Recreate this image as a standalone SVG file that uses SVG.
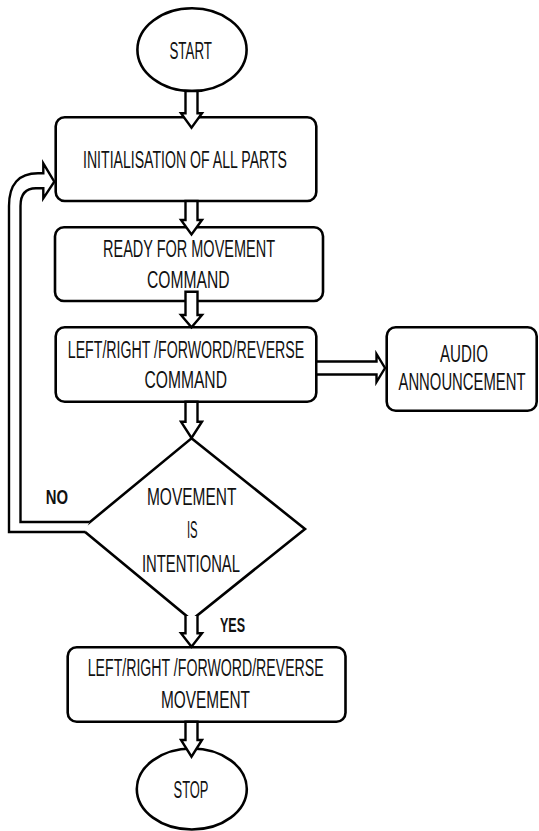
<svg xmlns="http://www.w3.org/2000/svg" width="539" height="831" viewBox="0 0 539 831">
<style>
.n{fill:#fff;stroke:#000;stroke-width:2.6}
.c{fill:#fff;stroke:#000;stroke-width:2.4;stroke-linejoin:miter}
text{font-family:"Liberation Sans",Arial,sans-serif;font-size:23px;fill:#111;text-anchor:middle}
.b{font-weight:bold;font-size:20px}
</style>
<rect width="539" height="831" fill="#fff"/>
<g id="start">
<ellipse class="n" cx="192" cy="49.7" rx="54.6" ry="41.4"/>
<text x="190.7" y="59" textLength="42.5" lengthAdjust="spacingAndGlyphs">START</text>
</g>
<g id="init">
<rect class="n" x="55.7" y="117.3" width="260.6" height="83.7" rx="9"/>
<text x="185" y="168.3" textLength="204" lengthAdjust="spacingAndGlyphs">INITIALISATION OF ALL PARTS</text>
</g>
<g id="ready">
<rect class="n" x="55" y="227.3" width="268" height="73.7" rx="9"/>
<text x="189" y="256.7" textLength="172" lengthAdjust="spacingAndGlyphs">READY FOR MOVEMENT</text>
<text x="188.3" y="288.3" textLength="82.5" lengthAdjust="spacingAndGlyphs">COMMAND</text>
</g>
<g id="command">
<rect class="n" x="55.7" y="327.3" width="260.6" height="74.4" rx="9"/>
<text x="186" y="358.3" textLength="236.5" lengthAdjust="spacingAndGlyphs">LEFT/RIGHT /FORWORD/REVERSE</text>
<text x="185.7" y="388.3" textLength="82.5" lengthAdjust="spacingAndGlyphs">COMMAND</text>
</g>
<g id="audio">
<rect class="n" x="386.7" y="327.3" width="150" height="83.4" rx="9"/>
<text x="464" y="361.7" textLength="48" lengthAdjust="spacingAndGlyphs">AUDIO</text>
<text x="462" y="390" textLength="127" lengthAdjust="spacingAndGlyphs">ANNOUNCEMENT</text>
</g>
<g id="decision">
<polygon class="n" points="191.5,438.3 305,529 191.5,620 81.5,529"/>
<text x="191.7" y="505" textLength="89.5" lengthAdjust="spacingAndGlyphs">MOVEMENT</text>
<text x="192.3" y="538.3" textLength="10.7" lengthAdjust="spacingAndGlyphs">IS</text>
<text x="191" y="571.7" textLength="98" lengthAdjust="spacingAndGlyphs">INTENTIONAL</text>
</g>
<g id="movement">
<rect class="n" x="67.7" y="647.3" width="277.8" height="74.4" rx="9"/>
<text x="205.7" y="676" textLength="236" lengthAdjust="spacingAndGlyphs">LEFT/RIGHT /FORWORD/REVERSE</text>
<text x="205.5" y="708.3" textLength="89" lengthAdjust="spacingAndGlyphs">MOVEMENT</text>
</g>
<g id="stop">
<ellipse class="n" cx="191.8" cy="789" rx="55" ry="40.5"/>
<text x="191" y="798.3" textLength="35" lengthAdjust="spacingAndGlyphs">STOP</text>
</g>
<g id="connectors">
<polygon class="c" points="185.5,91 197.5,91 197.5,113.3 202,113.3 191.5,127.7 181,113.3 185.5,113.3"/>
<polygon class="c" points="185.5,201 197.5,201 197.5,220 202,220 191.5,234.5 181,220 185.5,220"/>
<polygon class="c" points="185.5,291.7 197.5,291.7 197.5,315 202,315 191.5,327.3 181,315 185.5,315"/>
<polygon class="c" points="185.5,401.7 197.5,401.7 197.5,421.7 202,421.7 191.5,438 181,421.7 185.5,421.7"/>
<path class="c" d="M185.5,616 L185.5,633.3 L181,633.3 L191.5,646.7 L202,633.3 L197.5,633.3 L197.5,616"/>
<polygon class="c" points="185.5,721.7 197.5,721.7 197.5,740 202,740 191.5,756.7 181,740 185.5,740"/>
<polygon class="c" points="316.3,361.5 376.5,361.5 376.5,354 385,368 376.5,382 376.5,374.5 316.3,374.5"/>
<path class="c" d="M89.5,522 L20.5,522 L20.5,206 Q20.5,188.3 36,188.3 L43.3,188.3 L43.3,198.3 L54.3,181.7 L43.3,163.3 L43.3,173.3 L38,173.3 Q9,173.3 9,206 L9,532 L85,532"/>
<text class="b" x="56.8" y="504" textLength="22.3" lengthAdjust="spacingAndGlyphs">NO</text>
<text class="b" x="232.5" y="631.7" textLength="25" lengthAdjust="spacingAndGlyphs">YES</text>
</g>
</svg>
